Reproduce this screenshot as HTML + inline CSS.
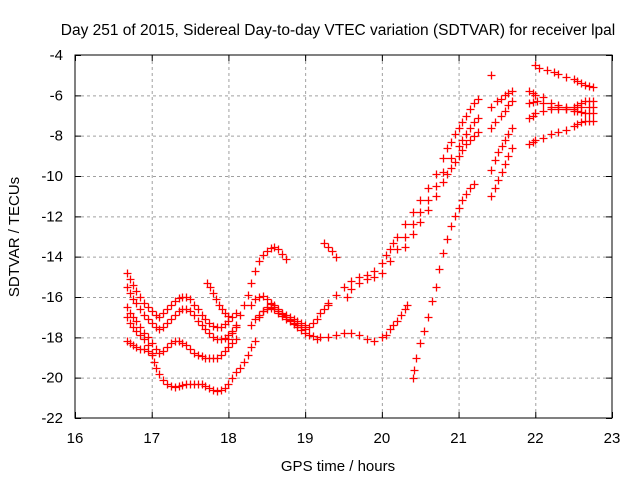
<!DOCTYPE html>
<html><head><meta charset="utf-8"><style>
html,body{margin:0;padding:0;background:#fff;}
svg{display:block;font-family:"Liberation Sans",sans-serif;}
</style></head><body>
<svg id="chart" width="640" height="480" viewBox="0 0 640 480" xmlns="http://www.w3.org/2000/svg">
<rect x="0" y="0" width="640" height="480" fill="#fff"/>
<text x="338" y="35" font-size="15.5" text-anchor="middle">Day 251 of 2015, Sidereal Day-to-day VTEC variation (SDTVAR) for receiver lpal</text>
<text x="338" y="471" font-size="15" text-anchor="middle">GPS time / hours</text>
<text x="19" y="237" font-size="15" text-anchor="middle" transform="rotate(-90 19 237)">SDTVAR / TECUs</text>
<g id="grid"></g>
<g id="ticks"></g>
<g id="points"></g>
<rect x="75" y="55" width="537" height="363" fill="none" stroke="#000" stroke-width="1"/>
</svg>
<script>
const xTicks=[16,17,18,19,20,21,22,23];
const yTicks=[-4,-6,-8,-10,-12,-14,-16,-18,-20,-22];
const track1=[[16.68,-14.8],[16.72,-15.1],[16.76,-15.4],[16.8,-15.7],[16.85,-16.0],[16.9,-16.3],[16.95,-16.5],[17.0,-16.7],[17.05,-16.9],[17.1,-17.0],[17.15,-16.8],[17.2,-16.6],[17.25,-16.4],[17.3,-16.2],[17.35,-16.05],[17.4,-16.0],[17.45,-16.0],[17.5,-16.1],[17.55,-16.4],[17.6,-16.6],[17.65,-16.9],[17.7,-17.1],[17.75,-17.3],[17.8,-17.45],[17.85,-17.5],[17.9,-17.5],[17.95,-17.35],[18.0,-17.2],[18.05,-17.0],[18.1,-16.8]];
const track2=[[16.68,-15.5],[16.72,-15.8],[16.76,-16.1],[16.8,-16.3],[16.85,-16.6],[16.9,-16.9],[16.95,-17.1],[17.0,-17.3],[17.05,-17.5],[17.1,-17.6],[17.15,-17.5],[17.2,-17.3],[17.25,-17.1],[17.3,-16.9],[17.35,-16.7],[17.4,-16.6],[17.45,-16.6],[17.5,-16.7],[17.55,-16.9],[17.6,-17.2],[17.65,-17.4],[17.7,-17.6],[17.75,-17.8],[17.8,-18.0],[17.85,-18.1],[17.9,-18.1],[17.95,-18.05],[18.0,-17.9],[18.05,-17.7],[18.1,-17.5]];
const track3=[[16.68,-16.5],[16.72,-16.8],[16.76,-17.0],[16.8,-17.2],[16.85,-17.5],[16.9,-17.8],[16.95,-18.0],[17.0,-18.3],[17.05,-18.6],[17.1,-18.8],[17.15,-18.7],[17.2,-18.5],[17.25,-18.3],[17.3,-18.2],[17.35,-18.2],[17.4,-18.3],[17.45,-18.4],[17.5,-18.6],[17.55,-18.8],[17.6,-18.9],[17.65,-18.95],[17.7,-19.0],[17.75,-19.0],[17.8,-19.0],[17.85,-19.0],[17.9,-18.9],[17.95,-18.7],[18.0,-18.5],[18.05,-18.3],[18.1,-18.1]];
const track4=[[16.68,-17.0],[16.72,-17.3],[16.76,-17.5],[16.8,-17.7],[16.85,-17.9],[16.9,-18.1],[16.95,-18.4],[17.0,-18.8],[17.03,-19.2],[17.06,-19.5],[17.1,-19.8],[17.15,-20.1],[17.2,-20.3],[17.25,-20.4],[17.3,-20.45],[17.35,-20.4],[17.4,-20.35],[17.45,-20.3],[17.5,-20.3],[17.55,-20.3],[17.6,-20.3],[17.65,-20.3],[17.7,-20.4],[17.75,-20.5],[17.8,-20.6],[17.85,-20.65],[17.9,-20.6],[17.95,-20.5],[18.0,-20.3],[18.05,-20.0],[18.1,-19.7],[18.15,-19.5],[18.2,-19.2],[18.25,-18.9],[18.3,-18.5],[18.35,-18.2]];
const track5=[[16.68,-18.2],[16.72,-18.3],[16.76,-18.4],[16.8,-18.5],[16.85,-18.6],[16.9,-18.6],[16.95,-18.7],[17.0,-18.9]];
const track6=[[17.72,-15.3],[17.76,-15.5],[17.8,-15.8],[17.84,-16.1],[17.88,-16.4],[17.92,-16.6],[17.96,-16.8],[18.0,-16.95]];
const track7=[[18.0,-18.1],[18.05,-17.8],[18.1,-17.4],[18.15,-16.9],[18.2,-16.4],[18.25,-15.9],[18.3,-15.3],[18.35,-14.7],[18.4,-14.2],[18.45,-13.9],[18.5,-13.7],[18.55,-13.55],[18.6,-13.5],[18.65,-13.6],[18.7,-13.85],[18.75,-14.1]];
const track8=[[18.3,-16.4],[18.35,-16.1],[18.4,-16.0],[18.45,-15.95],[18.5,-16.1],[18.55,-16.3],[18.6,-16.5],[18.65,-16.7],[18.7,-16.85],[18.75,-17.0],[18.8,-17.15],[18.85,-17.3],[18.9,-17.4],[18.95,-17.5],[19.0,-17.6],[19.05,-17.5],[19.1,-17.3],[19.15,-17.1],[19.2,-16.8],[19.25,-16.6],[19.3,-16.4]];
const track9=[[18.3,-17.4],[18.35,-17.1],[18.4,-16.9],[18.45,-16.7],[18.5,-16.6],[18.55,-16.55],[18.6,-16.6],[18.65,-16.8],[18.7,-16.95],[18.75,-17.1],[18.8,-17.2],[18.85,-17.35],[18.9,-17.5],[18.95,-17.65],[19.0,-17.8],[19.05,-17.9],[19.1,-17.95]];
const track10=[[18.4,-17.0],[18.45,-16.7],[18.5,-16.5],[18.55,-16.35],[18.6,-16.4],[18.65,-16.6],[18.7,-16.8],[18.75,-16.9],[18.8,-17.0],[18.85,-17.1],[18.9,-17.2],[18.95,-17.3],[19.0,-17.4]];
const track11=[[19.15,-18.1],[19.2,-18.0],[19.3,-18.0],[19.4,-17.9],[19.5,-17.8],[19.6,-17.8],[19.7,-17.9],[19.8,-18.1],[19.9,-18.2],[20.0,-18.0],[20.05,-17.9],[20.1,-17.6],[20.15,-17.4],[20.2,-17.2],[20.25,-16.9],[20.3,-16.6],[20.33,-16.4]];
const track12=[[19.25,-13.3],[19.3,-13.5],[19.35,-13.7],[19.4,-14.0]];
const track13=[[19.3,-16.3],[19.4,-15.9],[19.5,-15.5],[19.6,-15.2],[19.7,-15.0],[19.8,-14.9],[19.9,-14.7],[20.0,-14.3],[20.05,-13.9],[20.1,-13.6],[20.15,-13.3],[20.2,-13.0],[20.3,-12.4],[20.4,-11.8],[20.5,-11.2],[20.6,-10.6],[20.7,-9.9],[20.8,-9.1],[20.85,-8.6],[20.9,-8.3],[20.95,-7.9],[21.0,-7.6],[21.05,-7.3],[21.1,-7.0],[21.15,-6.7],[21.2,-6.4],[21.25,-6.2]];
const track14=[[19.55,-16.0],[19.6,-15.6],[19.7,-15.3],[19.8,-15.1],[19.9,-15.0],[20.0,-14.8],[20.1,-14.2],[20.2,-13.6],[20.3,-13.0],[20.4,-12.4],[20.5,-11.8],[20.6,-11.2],[20.7,-10.5],[20.8,-9.8],[20.9,-9.1],[21.0,-8.5],[21.05,-8.2],[21.1,-7.9],[21.15,-7.6],[21.2,-7.3],[21.25,-7.1]];
const track15=[[20.3,-13.5],[20.4,-12.9],[20.5,-12.3],[20.6,-11.7],[20.7,-11.0],[20.8,-10.3],[20.85,-9.9],[20.9,-9.6],[20.95,-9.3],[21.0,-9.0],[21.05,-8.7],[21.1,-8.4],[21.15,-8.2],[21.2,-8.0],[21.25,-7.8]];
const track16=[[20.4,-20.0],[20.42,-19.6],[20.45,-19.0],[20.5,-18.3],[20.55,-17.7],[20.6,-17.0],[20.65,-16.2],[20.7,-15.5],[20.75,-14.6],[20.8,-13.8],[20.85,-13.1],[20.9,-12.5],[20.95,-12.0],[21.0,-11.6],[21.05,-11.2],[21.1,-10.9],[21.15,-10.6],[21.2,-10.4]];
const track17=[[21.42,-5.0]];
const track18=[[21.42,-6.6],[21.5,-6.3],[21.55,-6.2],[21.6,-6.0],[21.65,-5.9],[21.7,-5.8]];
const track19=[[21.42,-7.6],[21.48,-7.3],[21.55,-7.0],[21.6,-6.8],[21.65,-6.5],[21.7,-6.3]];
const track20=[[21.42,-9.7],[21.48,-9.2],[21.52,-8.8],[21.56,-8.5],[21.6,-8.2],[21.65,-7.9],[21.7,-7.6]];
const track21=[[21.42,-11.0],[21.47,-10.6],[21.52,-10.2],[21.56,-9.8],[21.6,-9.4],[21.65,-9.0],[21.7,-8.6]];
const track22=[[22.0,-4.5],[22.05,-4.65],[22.15,-4.75],[22.25,-4.85],[22.3,-4.95],[22.4,-5.1],[22.5,-5.2],[22.55,-5.3],[22.6,-5.4],[22.65,-5.5],[22.7,-5.55],[22.75,-5.6]];
const track23=[[21.92,-6.4],[21.97,-6.35],[22.02,-6.3],[22.1,-6.4],[22.2,-6.6],[22.3,-6.6],[22.4,-6.6],[22.5,-6.6],[22.55,-6.5],[22.6,-6.4],[22.65,-6.3],[22.7,-6.3],[22.75,-6.3]];
const track24=[[21.92,-5.8],[21.97,-5.9],[22.0,-6.0],[22.1,-6.1],[22.2,-6.4],[22.3,-6.5],[22.4,-6.7],[22.5,-6.8],[22.55,-6.8],[22.6,-6.85],[22.65,-6.9],[22.7,-6.9],[22.75,-6.9]];
const track25=[[21.92,-7.1],[21.97,-7.0],[22.0,-6.9],[22.1,-6.8],[22.2,-6.7],[22.3,-6.7],[22.4,-6.7],[22.5,-6.7],[22.6,-6.6],[22.7,-6.6],[22.75,-6.6]];
const track26=[[21.92,-8.4],[21.97,-8.3],[22.0,-8.2],[22.1,-8.1],[22.2,-7.9],[22.3,-7.8],[22.4,-7.7],[22.5,-7.5],[22.55,-7.4],[22.6,-7.3],[22.65,-7.25],[22.7,-7.25],[22.75,-7.25]];
const tracks=[track1,track2,track3,track4,track5,track6,track7,track8,track9,track10,track11,track12,track13,track14,track15,track16,track17,track18,track19,track20,track21,track22,track23,track24,track25,track26];

const X0=75,X1=612,Y0=55,Y1=418,xmin=16,xmax=23,ymin=-22,ymax=-4;
const sx=v=>X0+(v-xmin)/(xmax-xmin)*(X1-X0);
const sy=v=>Y1-(v-ymin)/(ymax-ymin)*(Y1-Y0);
const NS='http://www.w3.org/2000/svg';
function mk(tag,attrs,parent){const e=document.createElementNS(NS,tag);for(const k in attrs)e.setAttribute(k,attrs[k]);parent.appendChild(e);return e;}
const grid=document.getElementById('grid'),ticks=document.getElementById('ticks'),pts=document.getElementById('points');
xTicks.forEach(t=>{
  const x=sx(t)+0.5;
  if(t>xmin&&t<xmax){const g=mk('line',{x1:x,y1:Y0,x2:x,y2:Y1,stroke:'#a0a0a0','stroke-dasharray':'3,3'},grid);
  
  }
  const tk=mk('path',{d:`M${x} ${Y1}v-6M${x} ${Y0}v6`,stroke:'#000'},ticks);
  
  
  const lb=mk('text',{x:sx(t),y:Y1+25,'font-size':15,'text-anchor':'middle'},ticks);
  lb.textContent=t;
  
  
});
yTicks.forEach(t=>{
  const y=sy(t)+0.5;
  if(t>ymin&&t<ymax){const g=mk('line',{x1:X0,y1:y,x2:X1,y2:y,stroke:'#a0a0a0','stroke-dasharray':'3,3'},grid);
  
  }
  const tk=mk('path',{d:`M${X0} ${y}h6M${X1} ${y}h-6`,stroke:'#000'},ticks);
  
  
  const lb=mk('text',{x:X0-12,y:sy(t)+5,'font-size':15,'text-anchor':'end'},ticks);
  lb.textContent=t;
  
  
});
tracks.forEach(tr=>{
  tr.forEach(p=>{
    const x=Math.round(sx(p[0]))+0.5,y=Math.round(sy(p[1]))+0.5;
    const m=mk('path',{d:`M${x-4} ${y}h8M${x} ${y-4}v8`,stroke:'#ff0000','stroke-width':1.3},pts);
    
    
  });
});
</script>
</body></html>
